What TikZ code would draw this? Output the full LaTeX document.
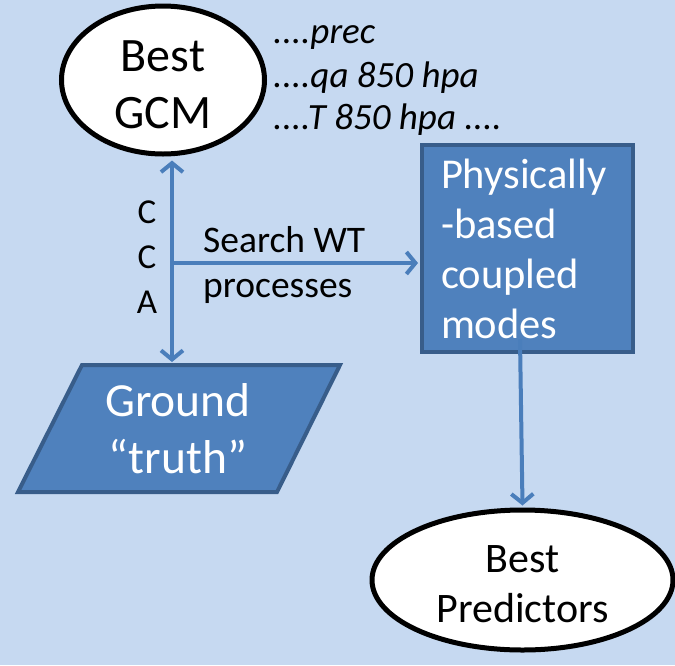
\documentclass[tikz,border=0pt]{standalone}
\usepackage{fontspec}
\setmainfont{Carlito}
\usetikzlibrary{shapes.geometric,arrows.meta}
\definecolor{bg}{HTML}{C6D9F1}
\definecolor{boxfill}{HTML}{4F81BD}
\definecolor{boxline}{HTML}{385D8A}
\definecolor{arr}{HTML}{4A7EBB}
\tikzset{
  oval/.style={ellipse, draw=black, fill=white, line width=5pt, inner sep=0pt, align=center},
  bluebox/.style={draw=boxline, fill=boxfill, line width=4pt, text=white},
  conn/.style={draw=arr, line width=4pt, -{Straight Barb[length=9pt,width=22pt]}},
  dconn/.style={draw=arr, line width=4pt, {Straight Barb[length=9pt,width=22pt]}-{Straight Barb[length=9pt,width=22pt]}},
  vartext/.style={anchor=base west, inner sep=0pt, font=\fontsize{37}{43}\selectfont\itshape},
  lbl/.style={inner sep=0pt, font=\fontsize{35}{45}\selectfont},
}
\begin{document}
\begin{tikzpicture}[x=1pt,y=-1pt]
\fill[bg] (0,0) rectangle (675,665);
\useasboundingbox (0,0) rectangle (675,665);

% nodes
\node[oval, minimum width=203pt, minimum height=148pt, font=\fontsize{48}{57}\selectfont] (gcm) at (163,80) {\rule{0pt}{41pt}Best\\GCM};

\node[vartext] (v1) at (273,43) {....prec};
\node[vartext] (v2) at (273,87) {....qa 850 hpa};
\node[vartext] (v3) at (273,129) {....T 850 hpa ....};

\node[bluebox, rectangle, minimum width=211pt, minimum height=207pt, text width=173pt, inner xsep=19pt, inner ysep=0pt, align=left, font=\fontsize{42.5}{50}\selectfont] (phys) at (527.5,248.5) {Physically\\-based\\coupled\\modes};

\draw[bluebox] (82,365) -- (340,365) -- (277,492) -- (18,492) -- cycle;
\node[text=white, align=center, inner sep=0pt, font=\fontsize{47.5}{57}\selectfont] (gt) at (178,429) {Ground\\“truth”};

\node[oval, minimum width=301pt, minimum height=140pt, font=\fontsize{42}{50}\selectfont] (pred) at (522.5,580) {\rule{0pt}{35pt}Best\\Predictors};

% labels
\node[lbl, anchor=base] (c1) at (147,223) {C};
\node[lbl, anchor=base] (c2) at (147,268) {C};
\node[lbl, anchor=base] (c3) at (147,313) {A};
\node[lbl, anchor=base west, font=\fontsize{37.5}{45}\selectfont] (s1) at (203,252) {Search WT};
\node[lbl, anchor=base west, font=\fontsize{37.5}{45}\selectfont] (s2) at (203,297) {processes};

% connectors
\coordinate (cca) at (172,263);
\coordinate (gtTop) at (172,362);
\draw[dconn] ([yshift=-4pt]cca |- gcm.south) -- (gtTop);
\draw[conn] (cca) -- ([xshift=-2pt]phys.west |- cca);
\draw[conn] ([xshift=-7.5pt,yshift=15pt]phys.south) -- ([yshift=2pt]pred.north);
\end{tikzpicture}
\end{document}
